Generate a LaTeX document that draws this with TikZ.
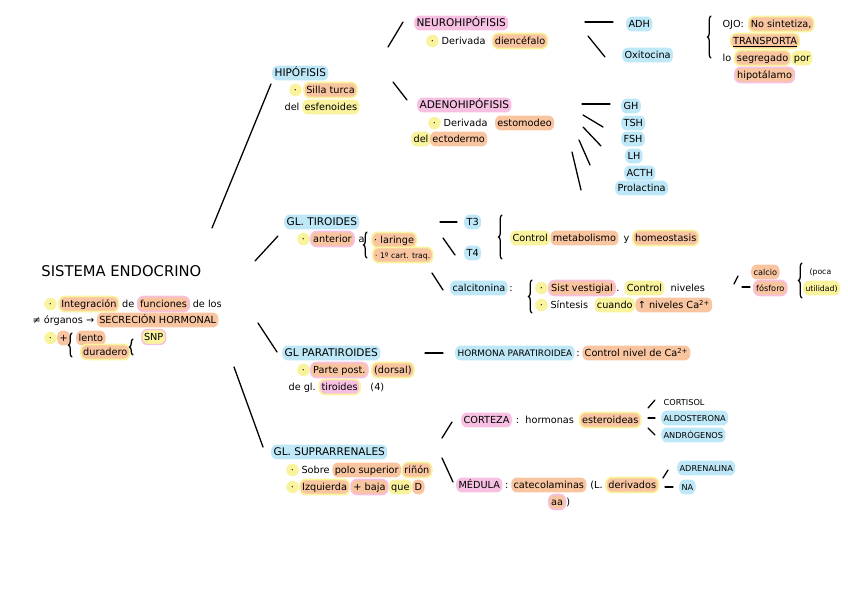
\documentclass[tikz,border=0pt]{standalone}
\usepackage{fontspec}
\setmainfont{DejaVu Sans}
\usetikzlibrary{calc,decorations.pathreplacing,positioning}
\definecolor{hlBlue}{RGB}{190,232,247}
\definecolor{hlPink}{RGB}{247,192,226}
\definecolor{hlOrange}{RGB}{248,197,160}
\definecolor{hlYellow}{RGB}{250,243,158}
\tikzset{
    txt/.style      = {font=\fontsize{8.3}{10}\selectfont, inner xsep=2pt,
                       inner ysep=1.2pt, text height=1.5ex, text depth=.4ex,
                       rounded corners=5pt},
    heading/.style  = {font=\fontsize{9}{11}\selectfont},
    smalltxt/.style = {font=\fontsize{7}{9}\selectfont},
    minitxt/.style  = {font=\fontsize{6.6}{8}\selectfont},
    ttl/.style      = {font=\fontsize{12.6}{14}\selectfont, inner sep=1pt},
    hlb/.style      = {txt, fill=hlBlue},
    hlp/.style      = {txt, fill=hlPink},
    hlo/.style      = {txt, fill=hlOrange},
    hly/.style      = {txt, fill=hlYellow},
    hloy/.style     = {hlo, draw=hlYellow, line width=1.4pt},
    hlop/.style     = {hlo, draw=hlPink, line width=1.4pt},
    hlpy/.style     = {hlp, draw=hlYellow, line width=1.4pt},
    hlyp/.style     = {hly, draw=hlPink, line width=1.2pt},
    bullet/.style   = {txt, circle, fill=hlYellow, inner sep=0pt,
                       minimum size=8pt},
    penline/.style  = {line width=1.1pt, line cap=round},
    curly/.style    = {decorate, decoration={brace, amplitude=3pt},
                       line width=1.1pt, line cap=round}
}

\begin{document}
\begin{tikzpicture}[x=0.03cm, y=-0.03cm]
\useasboundingbox (0,0) rectangle (848,599);

% Sistema endocrino
\node[ttl, anchor=west] (sis) at (40,271) {SISTEMA ENDOCRINO};
\node[bullet, anchor=west] (s1a) at (44,304) {·};
\node[hloy, base right=1pt of s1a] (s1b) {Integración};
\node[txt, base right=0pt of s1b] (s1c) {de};
\node[hlop, base right=0pt of s1c] (s1d) {funciones};
\node[txt, base right=0pt of s1d] (s1e) {de los};
\node[txt, anchor=west] (s2a) at (30,320) {≠ órganos →};
\node[hlo, base right=0pt of s2a] (s2b) {SECRECIÓN HORMONAL};
\node[bullet, anchor=west] (s3a) at (44,338) {·};
\node[hlo, base right=0pt of s3a] (s3b) {+};
\node[hlo, anchor=west] (s3c) at (76,338) {lento};
\node[hloy, anchor=west] (s3d) at (80,352) {duradero};
\node[hlyp, anchor=west] (s3e) at (141,337) {SNP};

% Hipofisis
\node[hlb, heading, anchor=west] (hip) at (272,73) {HIPÓFISIS};
\node[bullet, anchor=west] (hip1a) at (289,90) {·};
\node[hloy, base right=1pt of hip1a] (hip1b) {Silla turca};
\node[txt, anchor=west] (hip2a) at (282,107) {del};
\node[hly, base right=0pt of hip2a] (hip2b) {esfenoides};

\node[hlp, heading, anchor=west] (neu) at (414,23) {NEUROHIPÓFISIS};
\node[bullet, anchor=west] (neu1a) at (426,41) {·};
\node[txt, base right=0pt of neu1a] (neu1b) {Derivada};
\node[hloy, base right=3pt of neu1b] (neu1c) {diencéfalo};
\node[hlb, anchor=west] (adh) at (626,24) {ADH};
\node[hlb, anchor=west] (oxi) at (622,55) {Oxitocina};
\node[txt, anchor=west] (ojo1a) at (720,24) {OJO:};
\node[hloy, base right=1pt of ojo1a] (ojo1b) {No sintetiza,};
\node[hloy, anchor=west] (ojo2) at (730,41) {\underline{TRANSPORTA}};
\node[txt, anchor=west] (ojo3a) at (720,58) {lo};
\node[hloy, base right=0pt of ojo3a] (ojo3b) {segregado};
\node[hly, base right=0pt of ojo3b] (ojo3c) {por};
\node[hlop, anchor=west] (ojo4) at (734,75) {hipotálamo};

\node[hlp, heading, anchor=west] (ade) at (417,105) {ADENOHIPÓFISIS};
\node[bullet, anchor=west] (ade1a) at (428,123) {·};
\node[txt, base right=0pt of ade1a] (ade1b) {Derivada};
\node[hlo, base right=4pt of ade1b] (ade1c) {estomodeo};
\node[hly, anchor=west] (ade2a) at (411,139) {del};
\node[hlo, base right=-1pt of ade2a] (ade2b) {ectodermo};
\node[hlb, anchor=west] (gh) at (621,106) {GH};
\node[hlb, anchor=west] (tsh) at (621,123) {TSH};
\node[hlb, anchor=west] (fsh) at (621,139) {FSH};
\node[hlb, anchor=west] (lh) at (625,156) {LH};
\node[hlb, anchor=west] (acth) at (624,173) {ACTH};
\node[hlb, anchor=west] (prl) at (615,188) {Prolactina};

% Tiroides
\node[hlb, heading, anchor=west] (tir) at (284,222) {GL. TIROIDES};
\node[bullet, anchor=west] (tir1a) at (297,239) {·};
\node[hlop, base right=0pt of tir1a] (tir1b) {anterior};
\node[txt, base right=1pt of tir1b] (tir1c) {a};
\node[hloy, anchor=west] (tir2) at (371,240) {· laringe};
\node[hloy, minitxt, anchor=west] (tir3) at (372,255) {· 1º cart. traq.};
\node[hlb, anchor=west] (t3) at (464,222) {T3};
\node[hlb, anchor=west] (t4) at (464,253) {T4};
\node[hly, anchor=west] (met1) at (510,238) {Control};
\node[hlo, base right=0pt of met1] (met2) {metabolismo};
\node[txt, base right=2pt of met2] (met3) {y};
\node[hloy, base right=0pt of met3] (met4) {homeostasis};

\node[hlb, anchor=west] (cal) at (450,288) {calcitonina};
\node[txt, base right=-1pt of cal] (cal0) {:};
\node[bullet, anchor=west] (cal1a) at (535,288) {·};
\node[hlop, base right=0pt of cal1a] (cal1b) {Sist vestigial};
\node[txt, base right=-2pt of cal1b] (cal1c) {.};
\node[hly, base right=2pt of cal1c] (cal1d) {Control};
\node[txt, base right=3pt of cal1d] (cal1e) {niveles};
\node[bullet, anchor=west] (cal2a) at (535,305) {·};
\node[txt, base right=0pt of cal2a] (cal2b) {Síntesis};
\node[hly, base right=3pt of cal2b] (cal2c) {cuando};
\node[hlo, base right=0pt of cal2c] (cal2d) {↑ niveles Ca\textsuperscript{2+}};
\node[hlo, smalltxt, anchor=west] (calc) at (751,272) {calcio};
\node[hlop, smalltxt, anchor=west] (fos) at (753,288) {fósforo};
\node[txt, minitxt, anchor=west] (uti1) at (807,271) {(poca};
\node[hly, minitxt, anchor=west] (uti2) at (803,288) {utilidad)};

% Paratiroides
\node[hlb, heading, anchor=west] (par) at (282,353) {GL PARATIROIDES};
\node[bullet, anchor=west] (par1a) at (297,370) {·};
\node[hlop, base right=0pt of par1a] (par1b) {Parte post.};
\node[hloy, base right=2pt of par1b] (par1c) {(dorsal)};
\node[txt, anchor=west] (par2a) at (286,387) {de gl.};
\node[hlpy, base right=0pt of par2a] (par2b) {tiroides};
\node[txt, base right=6pt of par2b] (par2c) {(4)};
\node[hlb, font=\fontsize{7.6}{9}\selectfont, anchor=west] (pth) at (455,353) {HORMONA PARATIROIDEA};
\node[txt, base right=-1pt of pth] (pth0) {:};
\node[hlo, base right=0pt of pth0] (pth1) {Control nivel de Ca\textsuperscript{2+}};

% Suprarrenales
\node[hlb, heading, anchor=west] (sup) at (271,452) {GL. SUPRARRENALES};
\node[bullet, anchor=west] (sup1a) at (286,470) {·};
\node[txt, base right=0pt of sup1a] (sup1b) {Sobre};
\node[hlo, base right=0pt of sup1b] (sup1c) {polo superior};
\node[hloy, base right=0pt of sup1c] (sup1d) {riñón};
\node[bullet, anchor=west] (sup2a) at (286,487) {·};
\node[hloy, base right=0pt of sup2a] (sup2b) {Izquierda};
\node[hlop, base right=0pt of sup2b] (sup2c) {+ baja};
\node[hly, base right=0pt of sup2c] (sup2d) {que};
\node[hlo, base right=0pt of sup2d] (sup2e) {D};

\node[hlp, anchor=west] (cor) at (461,420) {CORTEZA};
\node[txt, base right=1pt of cor] (cor0) {:};
\node[txt, base right=1pt of cor0] (cor1) {hormonas};
\node[hloy, base right=2pt of cor1] (cor2) {esteroideas};
\node[txt, smalltxt, anchor=west] (cort) at (661,402) {CORTISOL};
\node[hlb, smalltxt, anchor=west] (aldo) at (661,418) {ALDOSTERONA};
\node[hlb, smalltxt, anchor=west] (andr) at (661,435) {ANDRÓGENOS};

\node[hlp, anchor=west] (med) at (456,485) {MÉDULA};
\node[txt, base right=0pt of med] (med0) {:};
\node[hlo, base right=0pt of med0] (med1) {catecolaminas};
\node[txt, base right=1pt of med1] (med2) {(L.};
\node[hloy, base right=0pt of med2] (med3) {derivados};
\node[hlop, anchor=west] (med4) at (548,502) {aa};
\node[txt, base right=-2pt of med4] (med5) {)};
\node[hlb, smalltxt, anchor=west] (adr) at (677,468) {ADRENALINA};
\node[hlb, smalltxt, anchor=west] (na) at (679,487) {NA};

% Pen strokes between the items
\foreach \n/\xa/\ya/\xb/\yb in {
    siship/212/228/271/84, sistir/255/261/278/236,
    sispar/258/323/277/352, sissup/234/367/263/447,
    hipneu/388/47/403/22, hipade/393/82/407/100,
    neuadh/585/22/613/22, neuoxi/588/36/605/57,
    adegh/582/104/610/104, adetsh/583/115/603/127,
    adefsh/583/127/601/146, adelh/579/140/590/165,
    adeacth/572/152/581/190,
    tirtt/440/222/457/222, tirtf/443/238/455/255,
    tircal/432/273/443/290, calca/734/284/738/276,
    calfo/742/287/750/287, parpth/425/353/443/353,
    supcor/442/438/452/422, supmed/442/458/453/482,
    corcort/648/408/655/400, coraldo/648/418/655/418,
    corandr/648/428/655/435, medadr/663/478/668/470,
    medna/665/487/673/487}
{
    \coordinate (\n-a) at (\xa,\ya);
    \coordinate (\n-b) at (\xb,\yb);
    \draw[penline] (\n-a) -- (\n-b);
}

% Braces
\foreach \n/\x/\ya/\yb in {
    lento/72/357/333, snp/133/355/339, ojo/711/58/16,
    lar/367/258/232, tt/502/259/215, cal/532/313/280,
    fos/802/298/263}
{
    \coordinate (\n-lo) at (\x,\ya);
    \coordinate (\n-hi) at (\x,\yb);
    \draw[curly] (\n-lo) -- (\n-hi);
}

\end{tikzpicture}
\end{document}
